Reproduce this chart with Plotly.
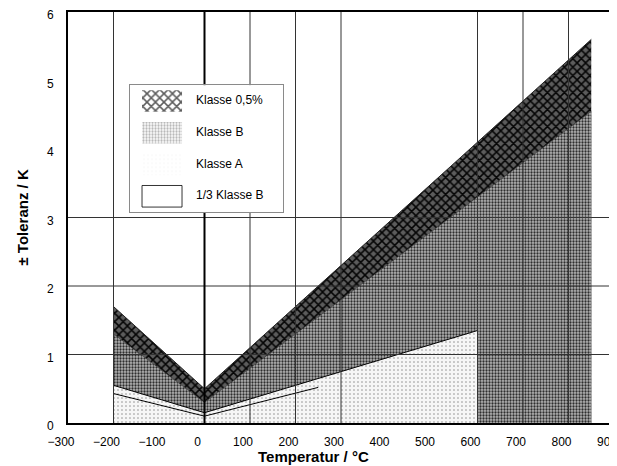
import plotly.graph_objects as go

# ---- data ----
temp_05 = [-200, 0, 850]
tol_05 = [1.7, 0.5, 5.6]
temp_B = [-200, 0, 850]
tol_B = [1.3, 0.3, 4.55]
temp_A = [-200, 0, 600]
tol_A = [0.55, 0.15, 1.35]
temp_B3 = [-200, 0, 250]
tol_B3 = [0.43, 0.1, 0.52]

legend_labels = ["Klasse 0,5%", "Klasse B", "Klasse A", "1/3 Klasse B"]
x_ticks = [-300, -200, -100, 0, 100, 200, 300, 400, 500, 600, 700, 800, 900]
y_ticks = [0, 1, 2, 3, 4, 5, 6]
grid_x = [-200, 100, 200, 300, 600, 700, 800]
grid_y = [1, 2, 3]

FONT = "Liberation Sans, Arial, sans-serif"

# ---- styles ----
C05_BG, C05_FG = "#5c5c5c", "#050505"
CB_BG, CB_FG = "#b4b4b4", "#2e2e2e"
CA_BG, CA_FG = "#f6f6f6", "#8a8a8a"
pat_05 = dict(shape="x", bgcolor=C05_BG, fgcolor=C05_FG, size=6, solidity=0.45, fillmode="replace")
pat_B = dict(shape=".", bgcolor=CB_BG, fgcolor=CB_FG, size=3, solidity=0.45, fillmode="replace")
pat_A = dict(shape=".", bgcolor=CA_BG, fgcolor=CA_FG, size=4, solidity=0.12, fillmode="replace")

fig = go.Figure()

fig.add_trace(go.Scatter(x=temp_05, y=tol_05, mode="lines", fill="tozeroy", fillpattern=pat_05,
                         line=dict(color="#222222", width=1), showlegend=False, hoverinfo="skip"))
fig.add_trace(go.Scatter(x=temp_B, y=tol_B, mode="lines", fill="tozeroy", fillpattern=pat_B,
                         line=dict(color="#444444", width=0.6), showlegend=False, hoverinfo="skip"))
fig.add_trace(go.Scatter(x=temp_A, y=tol_A, mode="lines", fill="tozeroy", fillpattern=pat_A,
                         line=dict(color="#000000", width=1), showlegend=False, hoverinfo="skip"))
fig.add_trace(go.Scatter(x=temp_B3, y=tol_B3, mode="lines",
                         line=dict(color="#000000", width=1), showlegend=False, hoverinfo="skip"))

# grid lines drawn above the fills
gx, gy = [], []
for v in grid_x:
    gx += [v, v, None]
    gy += [y_ticks[0], y_ticks[-1], None]
for v in grid_y:
    gx += [x_ticks[0], x_ticks[-1], None]
    gy += [v, v, None]
fig.add_trace(go.Scatter(x=gx, y=gy, mode="lines", line=dict(color="#333333", width=1),
                         showlegend=False, hoverinfo="skip"))
fig.add_trace(go.Scatter(x=[0, 0], y=[y_ticks[0], y_ticks[-1]], mode="lines",
                         line=dict(color="#000000", width=2), showlegend=False, hoverinfo="skip"))

# ---- inset legend ----
fig.add_trace(go.Bar(
    y=legend_labels, x=[1, 1, 1, 1], base=0, orientation="h", width=0.68,
    marker=dict(
        color=[C05_BG, CB_BG, CA_BG, "#ffffff"],
        pattern=dict(shape=["x", ".", ".", ""],
                     bgcolor=[C05_BG, CB_BG, CA_BG, "#ffffff"],
                     fgcolor=[C05_FG, CB_FG, CA_FG, "#ffffff"],
                     size=[6, 3, 4, 4], solidity=[0.45, 0.45, 0.12, 0.1], fillmode="replace"),
        line=dict(color="#000000", width=[0, 0, 0, 0.8])),
    xaxis="x2", yaxis="y2", showlegend=False, hoverinfo="skip"))
fig.add_trace(go.Scatter(
    y=legend_labels, x=[1.35] * 4, mode="text", text=legend_labels, textposition="middle right",
    textfont=dict(family=FONT, size=12, color="#000000"),
    xaxis="x2", yaxis="y2", showlegend=False, hoverinfo="skip"))

# page body has an 8px default margin -> figure origin sits at (8, 8)
fig.update_layout(
    width=609, height=458,
    margin=dict(l=60, r=3, t=4, b=43),
    paper_bgcolor="white", plot_bgcolor="white",
    font=dict(family=FONT, size=12, color="#000000"),
    showlegend=False,
    xaxis=dict(range=[x_ticks[0], x_ticks[-1]], tickvals=x_ticks, showgrid=False, zeroline=False,
               showline=True, linecolor="#000000", linewidth=2, mirror=True, ticks="",
               ticklabelshift=-7, ticklabelstandoff=7, tickfont=dict(size=12), automargin=False,
               ticklabeloverflow="allow"),
    yaxis=dict(range=[y_ticks[0], y_ticks[-1]], tickvals=y_ticks, showgrid=False, zeroline=False,
               showline=True, linecolor="#000000", linewidth=2, mirror=True, ticks="",
               ticklabelstandoff=10, ticklabelshift=3, tickfont=dict(size=12), automargin=False,
               ticklabeloverflow="allow"),
    xaxis2=dict(domain=[0.1136, 0.3938], range=[-0.3, 3.525], anchor="y2", showgrid=False,
                zeroline=False, showticklabels=False, ticks="", showline=True, mirror=True,
                linecolor="#8a8a8a", linewidth=1, fixedrange=True),
    yaxis2=dict(domain=[0.513, 0.822], anchor="x2", type="category", categoryarray=legend_labels,
                range=[3.5, -0.5], showgrid=False, zeroline=False, showticklabels=False, ticks="",
                showline=True, mirror=True, linecolor="#8a8a8a", linewidth=1, fixedrange=True),
    annotations=[
        dict(text="Temperatur / °C", xref="paper", yref="paper", x=0.45, y=-0.0827,
             xanchor="center", yanchor="middle", showarrow=False,
             font=dict(family=FONT, size=15, color="#000000", weight="bold")),
        dict(text="± Toleranz / K", xref="paper", yref="paper", x=-0.0842, y=0.5,
             xanchor="center", yanchor="middle", showarrow=False, textangle=-90,
             font=dict(family=FONT, size=15, color="#000000", weight="bold")),
    ],
)

fig.write_html("out.html")
